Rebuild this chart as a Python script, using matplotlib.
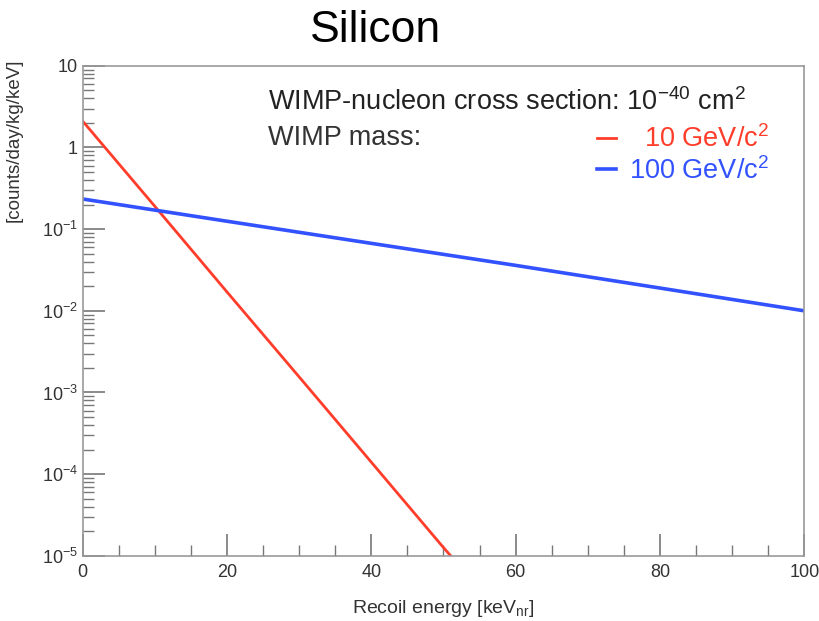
import numpy as np
import matplotlib.pyplot as plt
from matplotlib.ticker import FixedLocator, FuncFormatter, LogLocator, MultipleLocator
from matplotlib.lines import Line2D

plt.rcParams['font.family'] = ['Liberation Sans', 'DejaVu Sans']
plt.rcParams['mathtext.fontset'] = 'custom'
plt.rcParams['mathtext.rm'] = 'Liberation Sans'

# recoil energy [keVnr] and rate [counts/day/kg/keV]
energy_10 = [0, 10, 20, 30, 40, 50, 51]
rate_10 = [2.1, 0.19, 0.017, 1.55e-3, 1.4e-4, 1.26e-5, 1.0e-5]

energy_100 = [0, 20, 40, 60, 80, 100]
rate_100 = [0.234, 0.125, 0.067, 0.036, 0.019, 0.010]

red = '#ff3d2a'
blue = '#3352ff'
axis_grey = '#777777'

fig = plt.figure(figsize=(8.19, 6.21), dpi=100)
ax = fig.add_axes([0.101, 0.105, 0.881, 0.789])

ax.plot(energy_10, rate_10, color=red, lw=2.0)
ax.plot(energy_100, rate_100, color=blue, lw=2.6)

ax.set_yscale('log')
ax.set_xlim(0, 100)
ax.set_ylim(1e-5, 10)

def ylab(v, pos):
    if v >= 10:
        return '10'
    if abs(v - 1) < 1e-9:
        return '1'
    return r'$10^{%d}$' % int(round(np.log10(v)))

ax.yaxis.set_major_locator(FixedLocator([1e-5, 1e-4, 1e-3, 1e-2, 1e-1, 1, 10]))
ax.yaxis.set_major_formatter(FuncFormatter(ylab))
ax.yaxis.set_minor_locator(LogLocator(base=10, subs=np.arange(2, 10), numticks=20))
ax.yaxis.set_minor_formatter(FuncFormatter(lambda v, p: ''))
ax.xaxis.set_major_locator(MultipleLocator(20))
ax.xaxis.set_minor_locator(MultipleLocator(5))

ax.tick_params(which='both', direction='in', colors=axis_grey, labelcolor='#333333',
               labelsize=13, top=False, right=False)
ax.tick_params(which='major', length=16, width=1.2)
ax.tick_params(which='minor', length=8, width=1.0)
ax.tick_params(axis='x', pad=6)
for s in ax.spines.values():
    s.set_color('#999999')
    s.set_linewidth(1.2)

ax.set_xlabel('Recoil energy [keV$_{\\rm nr}$]', fontsize=14, color='#333333', labelpad=12)
ax.set_ylabel('[counts/day/kg/keV]', fontsize=13.5, color='#333333', ha='right', va='center')
ax.yaxis.set_label_coords(-0.095, 1.015)

fig.text(376 / 819, 1 - 31 / 621, 'Silicon', fontsize=32, ha='center', va='center')

ax.text(0.257, 0.925, r'WIMP-nucleon cross section: 10$^{-40}$ cm$^{2}$',
        transform=ax.transAxes, fontsize=19.5, color='#222222', va='center')
ax.text(0.257, 0.853, 'WIMP mass:', transform=ax.transAxes, fontsize=19.5,
        color='#333333', va='center')

handles = [Line2D([], [], color=red, lw=2.0), Line2D([], [], color=blue, lw=2.6)]
labels = [r'  10 GeV/c$^{2}$', r'100 GeV/c$^{2}$']
leg = ax.legend(handles, labels, loc='upper left', bbox_to_anchor=(0.69, 0.912),
                frameon=False, fontsize=19.5, handlelength=0.7, handletextpad=0.5,
                labelspacing=0.15, labelcolor='linecolor', borderaxespad=0.2)

fig.savefig('out.png', dpi=100)
